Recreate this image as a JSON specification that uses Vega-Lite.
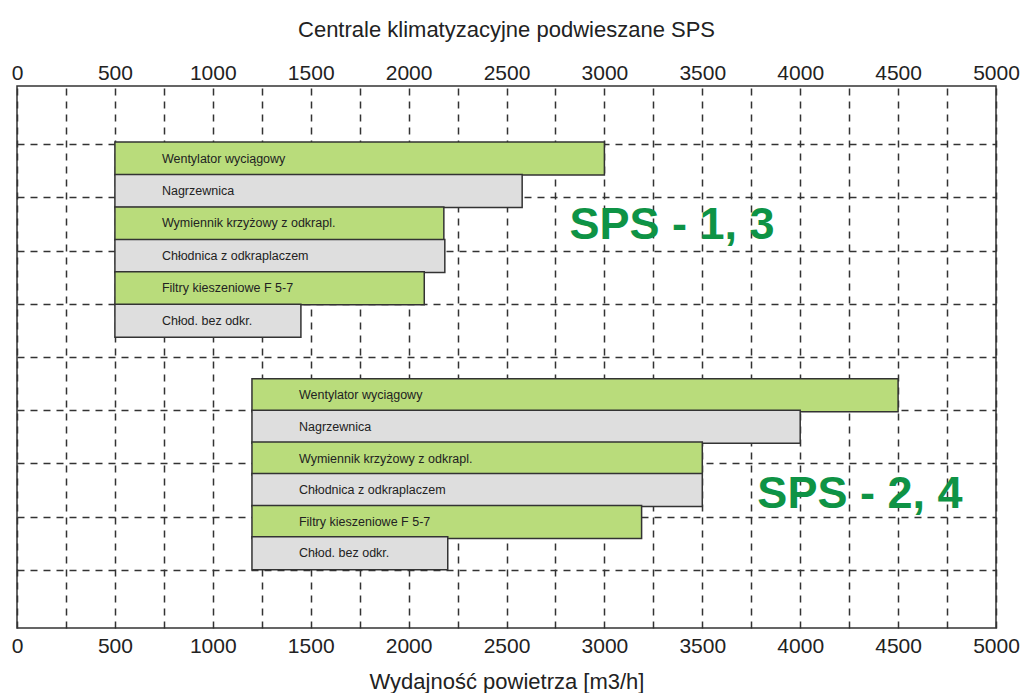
{
  "$schema": "https://vega.github.io/schema/vega-lite/v6.json",
  "width": 979,
  "height": 542,
  "autosize": {"type": "none"},
  "padding": {"left": 17, "top": 86, "right": 27, "bottom": 65},
  "background": "white",
  "title": {
    "text": "Centrale klimatyzacyjne podwieszane SPS",
    "font": "Liberation Sans",
    "fontSize": 22,
    "fontWeight": "normal",
    "color": "#222",
    "offset": 20,
    "anchor": "middle"
  },
  "config": {
    "view": {"stroke": "#333", "strokeWidth": 1.5},
    "axis": {
      "gridDash": [7, 6],
      "gridColor": "#333",
      "gridWidth": 1.5,
      "gridOpacity": 1
    }
  },
  "datasets": {
    "bars": [
      {"grupa": "SPS - 1, 3", "element": "Wentylator wyciągowy", "od": 500, "do": 3000, "poz": 1.27},
      {"grupa": "SPS - 1, 3", "element": "Nagrzewnica", "od": 500, "do": 2580, "poz": 1.88},
      {"grupa": "SPS - 1, 3", "element": "Wymiennik krzyżowy z odkrapl.", "od": 500, "do": 2180, "poz": 2.49},
      {"grupa": "SPS - 1, 3", "element": "Chłodnica z odkraplaczem", "od": 500, "do": 2185, "poz": 3.10},
      {"grupa": "SPS - 1, 3", "element": "Filtry kieszeniowe F 5-7", "od": 500, "do": 2080, "poz": 3.71},
      {"grupa": "SPS - 1, 3", "element": "Chłod. bez odkr.", "od": 500, "do": 1450, "poz": 4.32},
      {"grupa": "SPS - 2, 4", "element": "Wentylator wyciągowy", "od": 1200, "do": 4500, "poz": 5.72},
      {"grupa": "SPS - 2, 4", "element": "Nagrzewnica", "od": 1200, "do": 4000, "poz": 6.31},
      {"grupa": "SPS - 2, 4", "element": "Wymiennik krzyżowy z odkrapl.", "od": 1200, "do": 3500, "poz": 6.91},
      {"grupa": "SPS - 2, 4", "element": "Chłodnica z odkraplaczem", "od": 1200, "do": 3500, "poz": 7.50},
      {"grupa": "SPS - 2, 4", "element": "Filtry kieszeniowe F 5-7", "od": 1200, "do": 3190, "poz": 8.10},
      {"grupa": "SPS - 2, 4", "element": "Chłod. bez odkr.", "od": 1200, "do": 2200, "poz": 8.69}
    ],
    "groups": [
      {"grupa": "SPS - 1, 3", "x": 3345, "poz": 2.51},
      {"grupa": "SPS - 2, 4", "x": 4305, "poz": 7.58}
    ]
  },
  "layer": [
    {
      "data": {"name": "bars"},
      "mark": {"type": "bar", "size": 33, "stroke": "#333", "strokeWidth": 1.5},
      "encoding": {
        "x": {
          "field": "od",
          "type": "quantitative",
          "scale": {"domain": [0, 5000], "nice": false, "zero": true},
          "axis": {
            "orient": "bottom",
            "values": [0, 250, 500, 750, 1000, 1250, 1500, 1750, 2000, 2250, 2500, 2750, 3000, 3250, 3500, 3750, 4000, 4250, 4500, 4750, 5000],
            "format": "d",
            "labelExpr": "datum.value % 500 == 0 ? datum.label : ''",
            "grid": true,
            "ticks": false,
            "domain": false,
            "labelFlush": false,
            "labelOverlap": false,
            "labelFont": "Liberation Sans",
            "labelFontSize": 21,
            "labelColor": "#222",
            "labelPadding": 7,
            "title": "Wydajność powietrza [m3/h]",
            "titleFont": "Liberation Sans",
            "titleFontSize": 22,
            "titleFontWeight": "normal",
            "titleColor": "#222",
            "titlePadding": 15
          }
        },
        "x2": {"field": "do"},
        "y": {
          "field": "poz",
          "type": "quantitative",
          "scale": {"domain": [0, 10], "nice": false, "reverse": true},
          "axis": {
            "values": [1, 2, 3, 4, 5, 6, 7, 8, 9],
            "grid": true,
            "labels": false,
            "ticks": false,
            "domain": false,
            "title": null
          }
        },
        "color": {
          "field": "element",
          "type": "nominal",
          "scale": {
            "domain": ["Wentylator wyciągowy", "Nagrzewnica", "Wymiennik krzyżowy z odkrapl.", "Chłodnica z odkraplaczem", "Filtry kieszeniowe F 5-7", "Chłod. bez odkr."],
            "range": ["#b9dc7b", "#dedede", "#b9dc7b", "#dedede", "#b9dc7b", "#dedede"]
          },
          "legend": null
        }
      }
    },
    {
      "data": {"name": "bars"},
      "mark": {"type": "text", "align": "left", "baseline": "middle", "dx": 47, "font": "Liberation Sans", "fontSize": 12.5, "color": "#222"},
      "encoding": {
        "x": {
          "field": "od",
          "type": "quantitative",
          "scale": {"domain": [0, 5000], "nice": false, "zero": true},
          "axis": {
            "orient": "top",
            "values": [0, 500, 1000, 1500, 2000, 2500, 3000, 3500, 4000, 4500, 5000],
            "format": "d",
            "grid": false,
            "ticks": false,
            "domain": false,
            "labelFlush": false,
            "labelOverlap": false,
            "labelFont": "Liberation Sans",
            "labelFontSize": 21,
            "labelColor": "#222",
            "labelPadding": 3,
            "title": null
          }
        },
        "y": {"field": "poz", "type": "quantitative", "scale": {"domain": [0, 10], "nice": false, "reverse": true}, "axis": null},
        "text": {"field": "element"}
      }
    },
    {
      "data": {"name": "groups"},
      "mark": {"type": "text", "align": "center", "baseline": "middle", "font": "Liberation Sans", "fontWeight": "bold", "fontSize": 45, "color": "#0e9345"},
      "encoding": {
        "x": {"field": "x", "type": "quantitative", "scale": {"domain": [0, 5000], "nice": false, "zero": true}, "axis": null},
        "y": {"field": "poz", "type": "quantitative", "scale": {"domain": [0, 10], "nice": false, "reverse": true}, "axis": null},
        "text": {"field": "grupa"}
      }
    }
  ],
  "resolve": {"axis": {"x": "independent", "y": "independent"}}
}
